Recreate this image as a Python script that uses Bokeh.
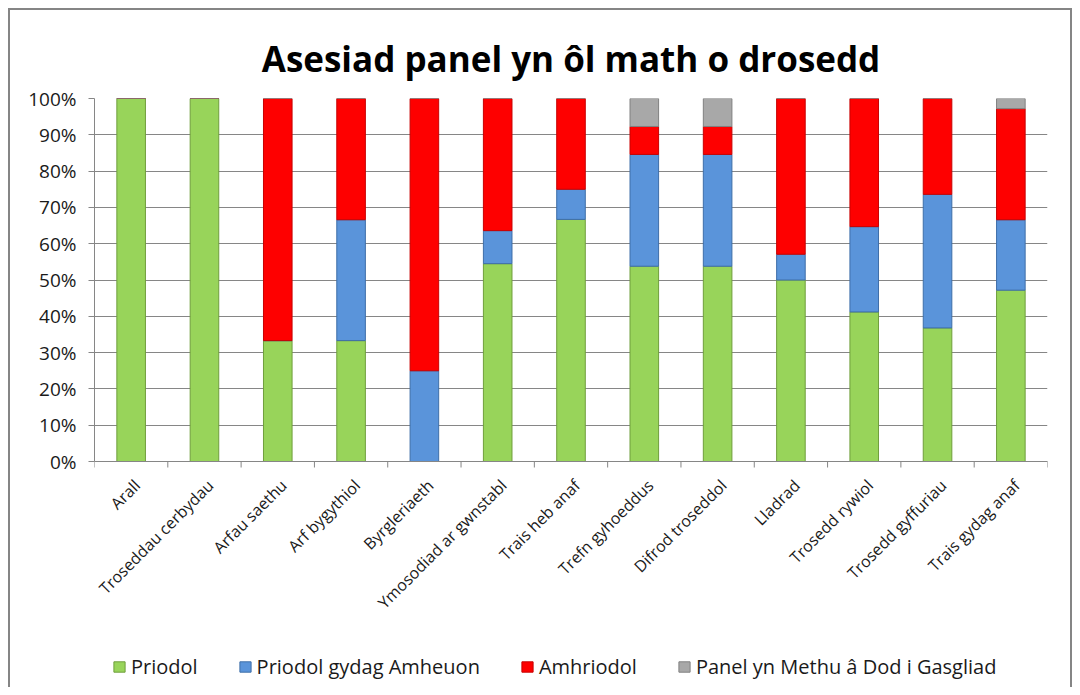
from math import pi
from bokeh.plotting import figure
from bokeh.layouts import column
from bokeh.core.properties import value
from bokeh.models import (ColumnDataSource, Range1d, LinearAxis, FixedTicker,
                          NumeralTickFormatter, Legend, Title, Span)
from bokeh.embed import file_html
from bokeh.resources import INLINE

categories = ["Arall", "Troseddau cerbydau", "Arfau saethu", "Arf bygythiol", "Byrgleriaeth",
              "Ymosodiad ar gwnstabl", "Trais heb anaf", "Trefn gyhoeddus", "Difrod troseddol",
              "Lladrad", "Trosedd rywiol", "Trosedd gyffuriau", "Trais gydag anaf"]
priodol = [1.0, 1.0, 0.333, 0.333, 0.0, 0.545, 0.667, 0.538, 0.538, 0.50, 0.412, 0.368, 0.472]
priodol_amheuon = [0.0, 0.0, 0.0, 0.333, 0.25, 0.091, 0.083, 0.308, 0.308, 0.071, 0.235, 0.368, 0.194]
amhriodol = [0.0, 0.0, 0.667, 0.334, 0.75, 0.364, 0.25, 0.077, 0.077, 0.429, 0.353, 0.264, 0.306]
methu = [0.0, 0.0, 0.0, 0.0, 0.0, 0.0, 0.0, 0.077, 0.077, 0.0, 0.0, 0.0, 0.028]
y_ticks = [0.0, 0.1, 0.2, 0.3, 0.4, 0.5, 0.6, 0.7, 0.8, 0.9, 1.0]

series = ["priodol", "priodol_amheuon", "amhriodol", "methu"]
labels = ["Priodol", "Priodol gydag Amheuon", "Amhriodol", "Panel yn Methu â Dod i Gasgliad"]
fills = ["#98D45A", "#5A94DA", "#FE0000", "#A8A8A8"]
edges = ["#6F9E3C", "#3E6EA8", "#C80000", "#808080"]

n = len(categories)
xpos = list(range(n))
source = ColumnDataSource(dict(x=xpos, cat=categories, base=[0.0] * n, priodol=priodol,
                               priodol_amheuon=priodol_amheuon, amhriodol=amhriodol, methu=methu))
boundaries = [i - 0.5 for i in range(n + 1)]
sep_source = ColumnDataSource(dict(x=boundaries, y=[0.0] * len(boundaries)))

FONT = "Open Sans"
GRID = "#868686"

# frame extends below 0 so the category labels and legend live inside it
FRAME_H = 677 - 88          # px
PX_PER_UNIT = 363.0         # 100% == 363 px
Y_LOW = -(FRAME_H / PX_PER_UNIT - 1.0)

p = figure(x_range=Range1d(-0.5, n - 0.5), y_range=Range1d(Y_LOW, 1),
           width=1060, height=677, output_backend="svg", toolbar_location=None,
           x_axis_location=None, y_axis_location=None,
           min_border_left=84, min_border_right=23, min_border_top=88, min_border_bottom=0)

p.title = Title(text="Asesiad panel yn ôl math o drosedd", align="center",
                text_font=FONT, text_font_size="35px", text_font_style="bold",
                text_color="#000000", offset=0, standoff=34)

renderers = p.vbar_stack(series, x="x", width=0.39, source=source,
                         fill_color=fills, line_color=edges, line_width=1)

# y axis (only 0..100%)
yaxis = LinearAxis(ticker=FixedTicker(ticks=y_ticks),
                   formatter=NumeralTickFormatter(format="0%"), bounds=(0, 1))
yaxis.major_label_text_font = FONT
yaxis.major_label_text_font_size = "19px"
yaxis.major_label_text_color = "#1a1a1a"
yaxis.axis_line_color = GRID
yaxis.major_tick_line_color = GRID
yaxis.major_tick_out = 6
yaxis.major_tick_in = 0
yaxis.minor_tick_line_color = None
yaxis.major_label_standoff = 12
p.add_layout(yaxis, "left")

# horizontal gridlines
p.ygrid.ticker = FixedTicker(ticks=y_ticks)
p.ygrid.grid_line_color = GRID
p.ygrid.grid_line_width = 1
p.xgrid.grid_line_color = None

# category axis line at 0 and separator tick marks between categories
p.add_layout(Span(location=0, dimension="width", line_color=GRID, line_width=1))
p.ray(x="x", y="y", source=sep_source, length=6, length_units="screen", angle=-pi / 2,
      line_color=GRID, line_width=1)

# rotated category labels
p.text(x="x", y="base", text="cat", source=source, angle=pi / 4,
       text_align="right", text_baseline="middle", x_offset=6, y_offset=21,
       text_font=value(FONT), text_font_size=value("16px"), text_color="#1a1a1a")

p.outline_line_color = None
p.background_fill_color = "white"
p.border_fill_color = "white"

legend = Legend(items=[(lab, [r]) for lab, r in zip(labels, renderers)],
                orientation="horizontal", location=(18, 7),
                label_text_font=FONT, label_text_font_size="20px", label_text_color="#1a1a1a",
                glyph_width=14, glyph_height=13, spacing=40, label_standoff=5,
                border_line_color=None, background_fill_alpha=0, margin=0, padding=0)
p.add_layout(legend, "center")

layout = column(p, styles={"margin-left": "8px", "margin-top": "8px",
                           "border-left": "2px solid #858585", "border-top": "2px solid #858585",
                           "border-right": "2px solid #858585"})

open("out.html", "w").write(file_html(layout, INLINE))
